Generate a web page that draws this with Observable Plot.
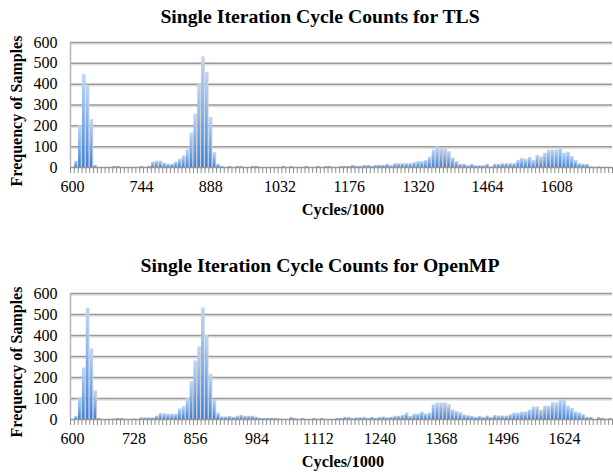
<!DOCTYPE html>
<html><head><meta charset="utf-8">
<script src="https://cdn.jsdelivr.net/npm/d3@7"></script>
<script src="https://cdn.jsdelivr.net/npm/@observablehq/plot@0.6"></script>
<style>
html,body{margin:0;padding:0;background:#fff;}
#wrap{position:relative;width:613px;height:472px;overflow:hidden;font-family:"Liberation Serif","Times New Roman",serif;}
.t{position:absolute;white-space:nowrap;font-weight:bold;color:#000;transform:translate(-50%,-50%);line-height:1;}
.yt{transform:translate(-50%,-50%) rotate(-90deg);}
.chart{position:absolute;left:0;}
.chart svg text{font-family:"Liberation Serif","Times New Roman",serif;}
</style></head><body>
<div id="wrap">
  <div class="t" style="left:320px;top:17px;font-size:19.7px">Single Iteration Cycle Counts for TLS</div>
  <div class="t yt" style="left:17px;top:111px;font-size:16px">Frequency of Samples</div>
  <div class="t" style="left:343px;top:210px;font-size:16.3px">Cycles/1000</div>
  <div class="chart" id="c1" style="top:0px"></div>
  <div class="t" style="left:320px;top:266px;font-size:19.7px">Single Iteration Cycle Counts for OpenMP</div>
  <div class="t yt" style="left:17px;top:362px;font-size:16px">Frequency of Samples</div>
  <div class="t" style="left:343px;top:462px;font-size:16.3px">Cycles/1000</div>
  <div class="chart" id="c2" style="top:250px"></div>
</div>
<script>
const binStart = 600;
const binWidth = 8;
const yTicks = [0, 100, 200, 300, 400, 500, 600];

const tlsCounts = [
  0,30,200,445,395,230,10,0,0,0,
  0,5,5,0,0,0,0,0,5,0,
  5,25,30,30,20,15,15,25,40,55,
  85,165,255,400,530,455,240,70,15,5,
  0,5,0,5,5,0,0,5,5,0,
  0,0,0,0,0,5,0,5,0,0,
  0,5,0,0,5,0,5,5,0,0,
  5,5,5,10,5,5,10,10,5,10,
  10,10,15,8,18,18,18,18,18,23,
  28,28,33,50,83,98,90,90,75,45,
  28,15,15,8,15,8,8,8,15,3,
  15,15,18,18,18,18,33,43,38,48,
  33,58,50,68,83,83,83,93,68,73,
  53,33,18,15,15,3,0,3,0,0,
  0
];
const ompCounts = [
  0,15,105,245,530,335,135,5,0,0,
  0,3,5,5,0,0,3,0,8,8,
  8,8,16,28,27,25,25,25,50,60,
  100,180,278,345,530,400,215,92,30,12,
  12,15,10,15,20,15,15,15,10,5,
  5,5,5,5,3,0,0,10,5,0,
  5,0,0,5,0,5,0,0,0,5,
  5,10,10,5,8,8,10,5,10,5,
  10,12,8,10,15,15,20,30,15,25,
  25,35,25,30,70,78,78,78,70,45,
  38,32,22,18,15,10,15,10,16,10,
  19,16,16,16,22,30,30,35,35,44,
  59,59,44,63,63,81,78,92,92,63,
  52,35,30,22,10,10,0,10,5,0,
  5
];
const tlsTickLabels = [600, 744, 888, 1032, 1176, 1320, 1464, 1608];
const ompTickLabels = [600, 728, 856, 984, 1112, 1240, 1368, 1496, 1624];

const serif = "Liberation Serif, Times New Roman, serif";

function histogram(counts, tickLabels, gradId, h, mt, mb) {
  const bins = counts.map((v, i) => ({x1: binStart + i * binWidth, x2: binStart + (i + 1) * binWidth, v}));
  const xMax = binStart + counts.length * binWidth;
  const boundaries = d3.range(binStart, xMax + 1, binWidth);
  const grid = yTicks.filter(d => d > 0);
  const svg = Plot.plot({
    width: 613, height: h,
    marginLeft: 70, marginRight: 1, marginTop: mt, marginBottom: mb,
    style: {fontFamily: serif, fontSize: "16px", color: "#000", background: "transparent", overflow: "visible"},
    x: {domain: [binStart, xMax]},
    y: {domain: [0, 600]},
    marks: [
      Plot.ruleY(grid, {stroke: "#e2e2e2", strokeWidth: 1.5, dy: 1.5}),
      Plot.ruleY(grid, {stroke: "#999999", strokeWidth: 1.5}),
      Plot.rectY(bins, {x1: "x1", x2: "x2", y: "v", fill: "#cfcfcf", insetLeft: 1.4, insetRight: -0.2}),
      Plot.rectY(bins, {x1: "x1", x2: "x2", y: "v", fill: `url(#${gradId})`, insetLeft: 0.4, insetRight: 0.8}),
      Plot.ruleX([binStart], {stroke: "#b4b4b4", strokeWidth: 1.5}),
      Plot.ruleY([0], {stroke: "#999999", strokeWidth: 1.5}),
      Plot.axisY(yTicks, {tickSize: 0, tickPadding: 13, label: null, fontFamily: serif, fontSize: 16}),
      Plot.axisX(boundaries, {tickSize: 6, tickFormat: () => "", stroke: "#8c8c8c", label: null}),
      Plot.axisX(tickLabels.map(d => d + binWidth / 2), {tickSize: 0, tickPadding: 13, tickFormat: d => String(d - binWidth / 2), label: null, fontFamily: serif, fontSize: 16})
    ]
  });
  const defs = d3.select(svg).insert("defs", ":first-child");
  const g = defs.append("linearGradient").attr("id", gradId)
    .attr("x1", 0).attr("y1", 0).attr("x2", 0).attr("y2", 1);
  g.append("stop").attr("offset", "0%").attr("stop-color", "#bcd9fb");
  g.append("stop").attr("offset", "50%").attr("stop-color", "#7badee");
  g.append("stop").attr("offset", "100%").attr("stop-color", "#3f80d8");
  return svg;
}

document.getElementById("c1").appendChild(histogram(tlsCounts, tlsTickLabels, "gradTLS", 230, 42, 63));
document.getElementById("c2").appendChild(histogram(ompCounts, ompTickLabels, "gradOMP", 222, 43, 53));
</script>
</body></html>
